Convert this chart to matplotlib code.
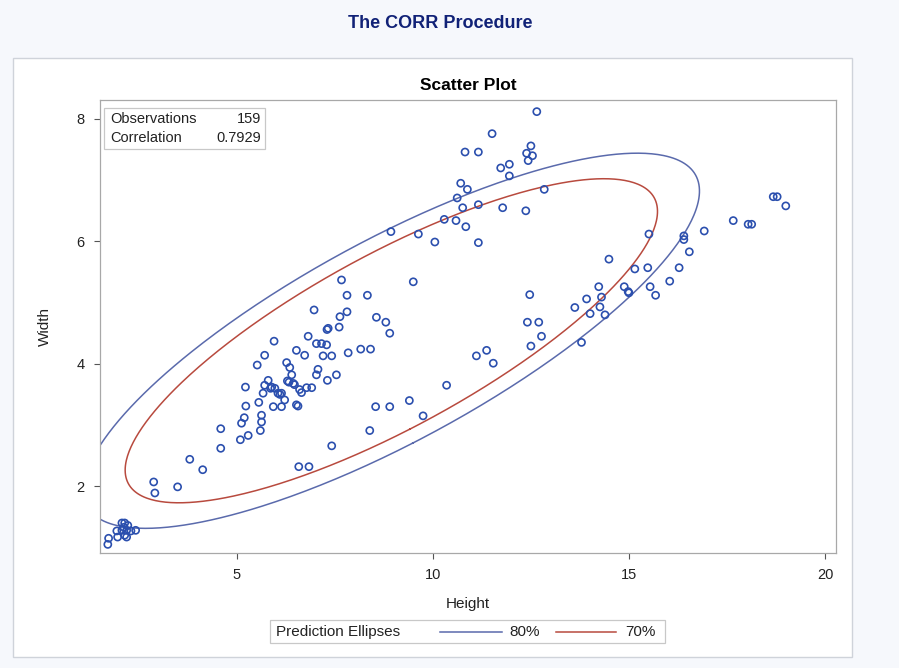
import numpy as np
import matplotlib.pyplot as plt
from matplotlib.patches import Rectangle
from matplotlib.lines import Line2D

# --- SETTINGS ---
plt.rcParams["font.family"] = ["Liberation Sans", "DejaVu Sans"]
bg_color = "#f6f8fc"
marker_color = "#2b4fae"
color_80 = "#5a6aac"
color_70 = "#b84a3e"
text_color = "#222222"
frame_color = "#a8a8a8"

# --- DATA ---
height = [
    1.71, 1.73, 1.94, 1.96, 2.07, 2.14, 2.22, 2.07, 2.19, 2.30, 2.42, 2.19, 2.14, 2.12,
    2.88, 2.91, 3.49, 3.80, 4.13, 4.59, 4.59, 5.09, 5.12, 5.19,
    5.23, 5.29, 5.22, 5.52, 5.60, 5.63, 5.63, 5.56, 5.71, 5.95,
    5.93, 6.14, 6.22, 6.27, 6.35, 6.40, 6.29, 6.52, 6.56, 6.65,
    6.78, 6.91, 6.44, 6.14, 5.80, 5.71, 5.67, 5.89, 5.97, 6.05,
    6.52, 6.73, 6.82, 6.97, 7.03, 7.16, 7.29, 7.20, 7.42, 7.07,
    7.03, 7.31, 7.54, 7.30, 7.33, 7.63, 7.61, 7.42, 6.58, 6.84,
    7.67, 7.81, 7.81, 7.84, 8.16,
    6.10, 6.33, 6.60, 5.86, 6.47,
    9.50, 8.33, 8.56, 8.80, 8.90, 8.41, 10.35, 8.54, 8.90, 9.40, 9.75, 8.39,
    12.65, 11.51, 10.82, 11.16, 12.50, 12.39, 12.54, 12.43, 11.95, 11.73,
    11.95, 10.71, 10.88, 12.84, 10.62, 10.76, 11.16, 11.78, 12.37, 10.29,
    10.59, 10.84, 8.93, 9.63, 10.05, 11.16,
    12.47, 13.62, 12.41, 12.70, 12.77, 12.50, 11.11, 11.37, 11.54, 13.79, 13.92, 14.01,
    15.51, 16.40, 16.40, 16.92, 17.66, 18.04, 18.13, 18.68, 18.78, 19.00,
    16.54, 14.49, 15.15, 15.48, 16.28, 16.04, 14.23, 14.88, 14.98, 15.00,
    15.54, 15.68, 14.30, 14.26, 14.39,
]
width = [
    1.05, 1.15, 1.27, 1.17, 1.40, 1.40, 1.36, 1.28, 1.28, 1.27, 1.28, 1.17, 1.20, 1.33,
    2.07, 1.89, 1.99, 2.44, 2.27, 2.94, 2.62, 2.76, 3.03, 3.12,
    3.31, 2.83, 3.62, 3.98, 2.91, 3.05, 3.16, 3.37, 4.14, 4.37,
    3.30, 3.30, 3.41, 4.02, 3.94, 3.82, 3.72, 3.33, 3.31, 3.53,
    3.61, 3.61, 3.68, 3.52, 3.73, 3.65, 3.52, 3.62, 3.60, 3.52,
    4.22, 4.14, 4.45, 4.88, 4.33, 4.33, 4.31, 4.13, 4.13, 3.91,
    3.82, 3.73, 3.82, 4.56, 4.58, 4.77, 4.60, 2.66, 2.32, 2.32,
    5.37, 5.12, 4.85, 4.18, 4.24,
    3.50, 3.70, 3.58, 3.60, 3.66,
    5.34, 5.12, 4.76, 4.68, 4.50, 4.24, 3.65, 3.30, 3.30, 3.40, 3.15, 2.91,
    8.12, 7.76, 7.46, 7.46, 7.56, 7.44, 7.40, 7.32, 7.26, 7.20,
    7.07, 6.95, 6.85, 6.85, 6.71, 6.55, 6.60, 6.55, 6.50, 6.36,
    6.34, 6.24, 6.16, 6.12, 5.99, 5.98,
    5.13, 4.92, 4.68, 4.68, 4.45, 4.29, 4.13, 4.22, 4.01, 4.35, 5.06, 4.82,
    6.12, 6.09, 6.03, 6.17, 6.34, 6.28, 6.28, 6.73, 6.73, 6.58,
    5.83, 5.71, 5.55, 5.57, 5.57, 5.35, 5.26, 5.26, 5.18, 5.16,
    5.26, 5.12, 5.09, 4.93, 4.80,
]
n_obs = 159
corr_value = 0.7929
ellipse_levels = [0.80, 0.70]
ellipse_labels = ["80%", "70%"]
x_ticks = [5, 10, 15, 20]
y_ticks = [2, 4, 6, 8]

x = np.array(height)
y = np.array(width)


def prediction_ellipse(level, npts=500):
    n = len(x)
    mean = np.array([x.mean(), y.mean()])
    cov = np.cov(np.vstack([x, y]))
    # F quantile with 2 numerator df has a closed form
    f = ((1 - level) ** (-2.0 / (n - 2)) - 1) * (n - 2) / 2.0
    c = np.sqrt(2.0 * (n - 1) * (n + 1) / (n * (n - 2)) * f)
    vals, vecs = np.linalg.eigh(cov)
    t = np.linspace(0, 2 * np.pi, npts)
    circ = np.vstack([np.cos(t), np.sin(t)])
    pts = mean[:, None] + c * (vecs @ (np.sqrt(vals)[:, None] * circ))
    return pts[0], pts[1]


# --- FIGURE ---
fig = plt.figure(figsize=(8.99, 6.68), dpi=100, facecolor=bg_color)
fig.patches.append(Rectangle((0.0145, 0.0165), 0.933, 0.897, transform=fig.transFigure,
                             facecolor="white", edgecolor="#cfd3da", lw=1, zorder=-10))

fig.text(0.49, 0.965, "The CORR Procedure", ha="center", va="center",
         fontsize=13, fontweight="bold", color="#112277")

ax = fig.add_axes([0.1112, 0.1722, 0.8187, 0.6781])
ax.set_facecolor("white")
ax.set_title("Scatter Plot", fontsize=12.5, fontweight="bold", color="black", pad=7)

for lvl, col in zip(ellipse_levels, [color_80, color_70]):
    ex, ey = prediction_ellipse(lvl)
    ax.plot(ex, ey, color=col, lw=1.1, zorder=2)

ax.scatter(x, y, s=26, facecolors="none", edgecolors=marker_color, linewidths=1.2, zorder=3)

ax.set_xlim(1.51, 20.28)
ax.set_ylim(0.91, 8.31)
ax.set_xticks(x_ticks)
ax.set_yticks(y_ticks)
ax.tick_params(axis="both", colors="#555555", labelcolor=text_color, labelsize=10.5,
               length=4, width=0.8, pad=7)
for s in ax.spines.values():
    s.set_color(frame_color)
    s.set_linewidth(0.9)

ax.set_xlabel("Height", fontsize=11, color=text_color)
ax.set_ylabel("Width", fontsize=11, color=text_color)
ax.xaxis.set_label_coords(0.5, -0.097)
ax.yaxis.set_label_coords(-0.065, 0.5)

# statistics inset
ax.add_patch(Rectangle((0.005, 0.892), 0.219, 0.09, transform=ax.transAxes,
                       facecolor="white", edgecolor="#c8c8c8", lw=0.9, zorder=4))
ax.text(0.0136, 0.959, "Observations", transform=ax.transAxes, ha="left", va="center",
        fontsize=10.5, color=text_color, zorder=5)
ax.text(0.2185, 0.959, f"{n_obs}", transform=ax.transAxes, ha="right", va="center",
        fontsize=10.5, color=text_color, zorder=5)
ax.text(0.0136, 0.916, "Correlation", transform=ax.transAxes, ha="left", va="center",
        fontsize=10.5, color=text_color, zorder=5)
ax.text(0.2185, 0.916, f"{corr_value:.4f}", transform=ax.transAxes, ha="right", va="center",
        fontsize=10.5, color=text_color, zorder=5)

# legend strip below the plot
fig.patches.append(Rectangle((0.3003, 0.0374), 0.4394, 0.0345, transform=fig.transFigure,
                             facecolor="white", edgecolor="#c8c8c8", lw=0.9, zorder=-5))
fig.text(0.307, 0.0546, "Prediction Ellipses", ha="left", va="center",
         fontsize=11, color=text_color)
fig.lines.append(Line2D([0.4894, 0.5584], [0.0546, 0.0546], transform=fig.transFigure,
                        color=color_80, lw=1.1, zorder=5))
fig.text(0.567, 0.0546, ellipse_labels[0], ha="left", va="center", fontsize=11, color=text_color)
fig.lines.append(Line2D([0.6185, 0.6852], [0.0546, 0.0546], transform=fig.transFigure,
                        color=color_70, lw=1.1, zorder=5))
fig.text(0.695, 0.0546, ellipse_labels[1], ha="left", va="center", fontsize=11, color=text_color)

fig.savefig("out.png", dpi=100, facecolor=bg_color)
